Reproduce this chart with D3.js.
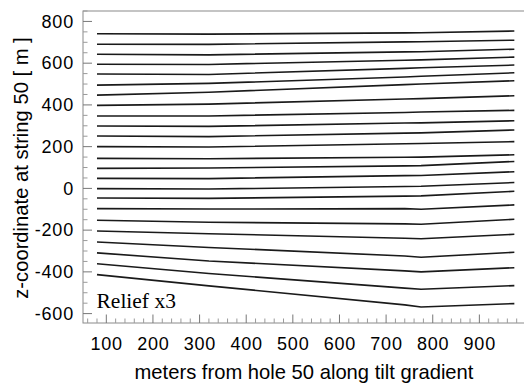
<!DOCTYPE html>
<html>
<head>
<meta charset="utf-8">
<script src="https://cdn.jsdelivr.net/npm/d3@7"></script>
<style>
  html, body { margin: 0; padding: 0; background: #fff; }
  svg { display: block; }
  .tick-label { font-family: "Liberation Sans", Arial, Helvetica, sans-serif; font-size: 18px; letter-spacing: 0.8px; fill: #000; }
  .axis-title { font-family: "Liberation Sans", Arial, Helvetica, sans-serif; font-size: 20.2px; fill: #000; }
  .note { font-family: "Liberation Serif", "Times New Roman", serif; font-size: 21.5px; fill: #000; }
</style>
</head>
<body>
<svg id="chart" width="524" height="384"></svg>
<script>
// Horizontal positions (m from hole 50) where each layer depth is sampled
const holeX = [80, 320, 740, 775, 975];

// z-coordinate of each layer (m), top to bottom, at the holeX positions
const contourZ = [
  [741, 739, 745, 746, 754],
  [691, 690, 702, 703, 710],
  [643, 640, 654, 655, 667],
  [595, 594, 614, 616, 629],
  [548, 546, 575, 578, 591],
  [495, 503, 534, 537, 554],
  [447, 461, 497, 500, 516],
  [398, 404, 428, 430, 444],
  [347, 347, 364, 366, 374],
  [299, 297, 313, 314, 324],
  [251, 248, 265, 266, 280],
  [200, 198, 214, 215, 224],
  [144, 142, 149, 150, 161],
  [96, 98, 108, 109, 129],
  [48, 47, 61, 62, 80],
  [-1, -3, 9, 10, 28],
  [-46, -48, -37, -36, -14],
  [-97, -99, -97, -100, -79],
  [-153, -162, -170, -172, -148],
  [-204, -217, -239, -241, -220],
  [-257, -283, -324, -330, -306],
  [-309, -348, -395, -400, -380],
  [-361, -408, -478, -483, -466],
  [-413, -467, -558, -568, -552]
];

const xTicks = [100, 200, 300, 400, 500, 600, 700, 800, 900];
const yTicks = [-600, -400, -200, 0, 200, 400, 600, 800];
const xTitle = "meters from hole 50 along tilt gradient";
const yTitle = "z-coordinate at string 50 [ m ]";
const noteText = "Relief x3";

const svg = d3.select("#chart");
const plot = { left: 83, top: 11, right: 526, bottom: 323 };

const x = d3.scaleLinear().domain([50, 1000]).range([plot.left, plot.right]);
const y = d3.scaleLinear().domain([-645, 850]).range([plot.bottom, plot.top]);

// frame
svg.append("rect")
  .attr("x", plot.left).attr("y", plot.top)
  .attr("width", plot.right - plot.left).attr("height", plot.bottom - plot.top)
  .attr("fill", "none").attr("stroke", "#8a8a8a").attr("stroke-width", 1);

// minor ticks (inward)
const xMinor = d3.range(60, 1000, 20).filter(v => v % 100 !== 0);
const yMinor = d3.range(-600, 851, 50).filter(v => v % 200 !== 0);

svg.append("g").selectAll("line").data(xMinor).join("line")
  .attr("x1", d => x(d)).attr("x2", d => x(d))
  .attr("y1", plot.bottom).attr("y2", plot.bottom - 4.5)
  .attr("stroke", "#9a9a9a").attr("stroke-width", 1);
svg.append("g").selectAll("line").data(xTicks).join("line")
  .attr("x1", d => x(d)).attr("x2", d => x(d))
  .attr("y1", plot.bottom).attr("y2", plot.bottom - 8.5)
  .attr("stroke", "#777").attr("stroke-width", 1);

svg.append("g").selectAll("line").data(yMinor).join("line")
  .attr("x1", plot.left).attr("x2", plot.left + 4.5)
  .attr("y1", d => y(d)).attr("y2", d => y(d))
  .attr("stroke", "#9a9a9a").attr("stroke-width", 1);
svg.append("g").selectAll("line").data(yTicks).join("line")
  .attr("x1", plot.left).attr("x2", plot.left + 9)
  .attr("y1", d => y(d)).attr("y2", d => y(d))
  .attr("stroke", "#777").attr("stroke-width", 1);

// tick labels
svg.append("g").selectAll("text").data(xTicks).join("text")
  .attr("class", "tick-label")
  .attr("x", d => x(d) + 0.4).attr("y", 350)
  .attr("text-anchor", "middle")
  .text(d => d);
svg.append("g").selectAll("text").data(yTicks).join("text")
  .attr("class", "tick-label")
  .attr("x", 74).attr("y", d => y(d))
  .attr("dy", "0.35em")
  .attr("text-anchor", "end")
  .text(d => d);

// axis titles
svg.append("text").attr("class", "axis-title")
  .attr("x", 304).attr("y", 379)
  .attr("text-anchor", "middle")
  .text(xTitle);
svg.append("text").attr("class", "axis-title")
  .attr("transform", "translate(27.5,168) rotate(-90)")
  .attr("text-anchor", "middle")
  .text(yTitle);

// layer contours
const line = d3.line()
  .x((d, i) => x(holeX[i]))
  .y(d => y(d));

svg.append("g").selectAll("path").data(contourZ).join("path")
  .attr("d", line)
  .attr("fill", "none")
  .attr("stroke", "#1a1a1a")
  .attr("stroke-width", 1.6)
  .attr("stroke-linejoin", "round");

// annotation
svg.append("text").attr("class", "note")
  .attr("x", 96.5).attr("y", 308)
  .text(noteText);
</script>
</body>
</html>
